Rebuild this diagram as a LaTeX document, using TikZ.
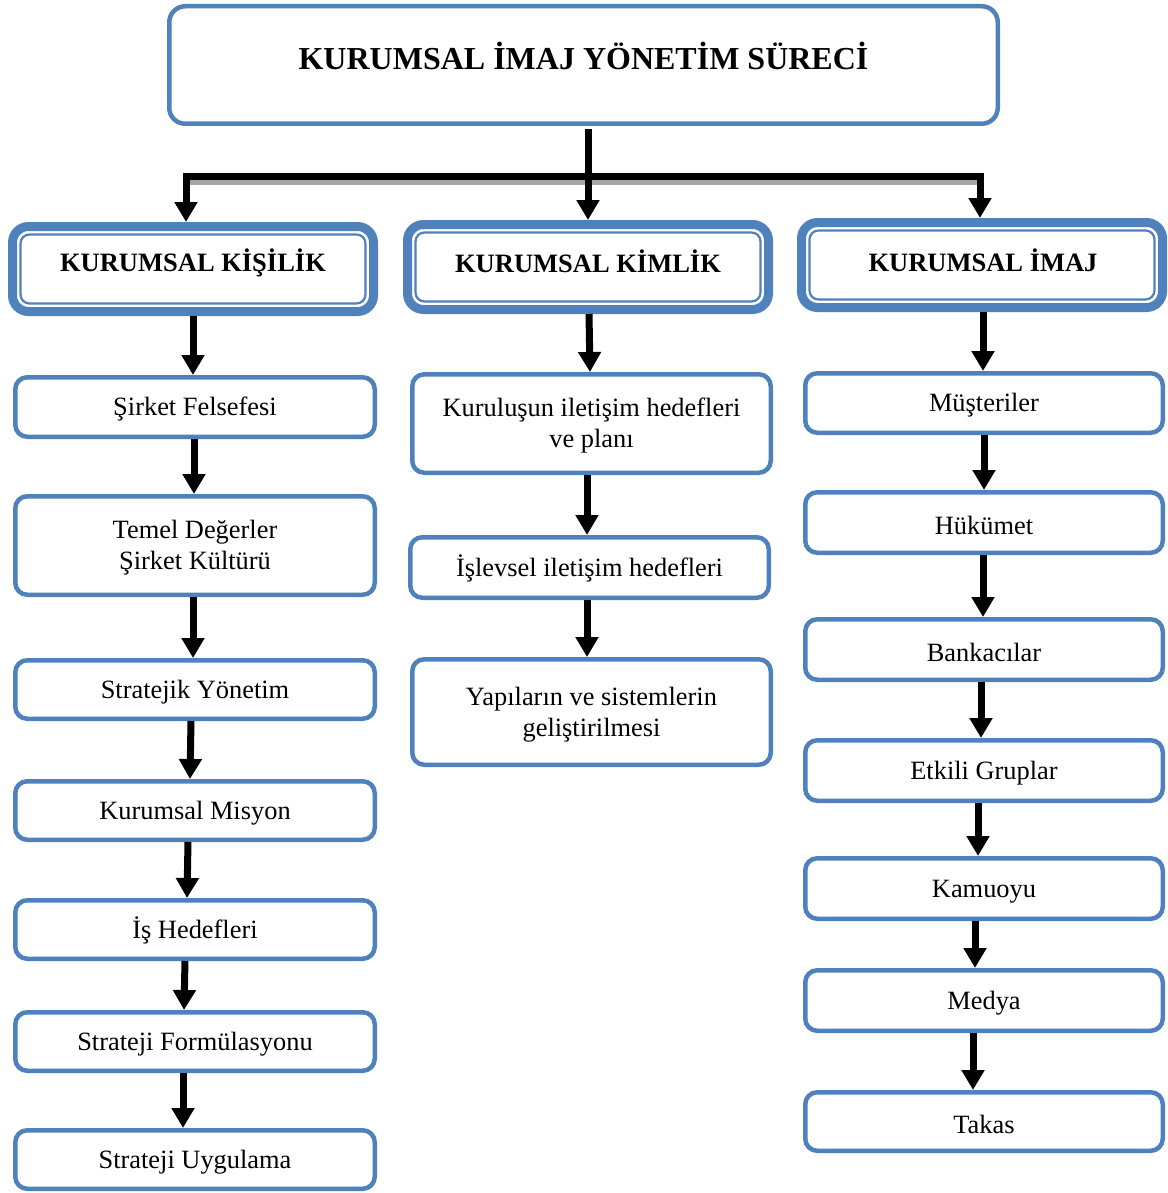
\documentclass[tikz,border=0pt]{standalone}
\usepackage{fontspec}
\setmainfont{Liberation Serif}
\usetikzlibrary{arrows.meta}
\definecolor{boxblue}{RGB}{79,129,189}
\newcommand\lowstrut{\rule{0pt}{23.5pt}}
\begin{document}
\begin{tikzpicture}[x=1pt,y=-1pt,
  bodytxt/.style={font=\fontsize{26.4}{31}\selectfont},
  box/.style={draw=boxblue, line width=4.5pt, rounded corners=12pt, fill=white,
    align=center, inner sep=0pt, bodytxt},
  lbox/.style={box, minimum width=359.5pt},
  hdr/.style={draw=boxblue, line width=9pt, rounded corners=16pt, fill=white,
    inner sep=0pt, minimum width=361pt, minimum height=85pt},
  innerframe/.style={draw=boxblue, line width=2.2pt, rounded corners=9pt},
  hdrtxt/.style={font=\bfseries\fontsize{26.5}{31}\selectfont},
  arr/.style={line width=7pt, -{Triangle[width=22pt,length=20pt]}},
]
\useasboundingbox (0,0) rectangle (1167,1193);

% top box
\node[draw=boxblue, line width=4.5pt, rounded corners=16pt, fill=white,
  minimum width=828.5pt, minimum height=117.5pt, inner sep=0pt] (top) at (583.5,65) {};
\node[font=\bfseries\fontsize{32}{38}\selectfont] (title) at (583.5,56) {KURUMSAL İMAJ YÖNETİM SÜRECİ};

% header boxes
\node[hdr] (h1) at (193,269) {};
\draw[innerframe] ([xshift=12.5pt,yshift=-12.5pt]h1.north west) rectangle ([xshift=-12.5pt,yshift=12.5pt]h1.south east);
\node[hdrtxt] (t1) at (193,263) {KURUMSAL KİŞİLİK};

\node[hdr] (h2) at (588,267) {};
\draw[innerframe] ([xshift=12.5pt,yshift=-12.5pt]h2.north west) rectangle ([xshift=-12.5pt,yshift=12.5pt]h2.south east);
\node[hdrtxt] (t2) at (588,261) {KURUMSAL KİMLİK};

\node[hdr] (h3) at (982,265) {};
\draw[innerframe] ([xshift=12.5pt,yshift=-12.5pt]h3.north west) rectangle ([xshift=-12.5pt,yshift=12.5pt]h3.south east);
\node[hdrtxt] (t3) at (983,260) {KURUMSAL İMAJ};

% left column
\node[lbox, minimum height=59.5pt] (b1) at (195,407) {\lowstrut Şirket Felsefesi};
\node[lbox, minimum height=98.5pt] (b2) at (195,545.5) {\lowstrut Temel Değerler\\Şirket Kültürü};
\node[lbox, minimum height=58.5pt] (b3) at (195,689.5) {\lowstrut Stratejik Yönetim};
\node[lbox, minimum height=58.5pt] (b4) at (195,810.5) {\lowstrut Kurumsal Misyon};
\node[lbox, minimum height=58.5pt] (b5) at (195,929.5) {\lowstrut İş Hedefleri};
\node[lbox, minimum height=58.5pt] (b6) at (195,1041.5) {\lowstrut Strateji Formülasyonu};
\node[lbox, minimum height=58.5pt] (b7) at (195,1159.5) {\lowstrut Strateji Uygulama};

% middle column
\node[box, minimum width=358.5pt, minimum height=98.5pt] (m1) at (591.5,423.5) {\lowstrut Kuruluşun iletişim hedefleri\\ve planı};
\node[box, minimum width=358.5pt, minimum height=60.5pt] (m2) at (589.5,567.5) {\lowstrut İşlevsel iletişim hedefleri};
\node[box, minimum width=358.5pt, minimum height=105.5pt] (m3) at (591.5,712) {\lowstrut Yapıların ve sistemlerin\\geliştirilmesi};

% right column
\node[box, minimum width=357.5pt, minimum height=59.5pt] (r1) at (984,403) {\lowstrut Müşteriler};
\node[box, minimum width=357.5pt, minimum height=60.5pt] (r2) at (984,522.5) {\lowstrut Hükümet};
\node[box, minimum width=357.5pt, minimum height=60.5pt] (r3) at (984,649.5) {\lowstrut Bankacılar};
\node[box, minimum width=357.5pt, minimum height=60.5pt] (r4) at (984,770.5) {\lowstrut Etkili Gruplar};
\node[box, minimum width=357.5pt, minimum height=60.5pt] (r5) at (984,888.5) {\lowstrut Kamuoyu};
\node[box, minimum width=357.5pt, minimum height=60.5pt] (r6) at (984,1000.5) {\lowstrut Medya};
\node[box, minimum width=357.5pt, minimum height=58.5pt] (r7) at (984,1121.5) {\lowstrut Takas};

% distribution bar
\coordinate (barL) at (186,177);
\coordinate (barR) at (980,177);
\draw[line width=4.5pt, black!35] ([xshift=4pt,yshift=-5.5pt]barL) -- ([yshift=-5.5pt]barR);
\draw[line width=7pt, line join=miter,
  {Triangle[width=22pt,length=20pt]}-{Triangle[width=22pt,length=20pt]}]
  (barL |- h1.north) -- (barL) -- (barR) -- (barR |- h3.north);
\draw[arr, shorten <=3pt] ([xshift=4.5pt]top.south) -- (h2.north);

% left arrows
\draw[arr] (h1.south) -- ([xshift=-2pt]b1.north);
\draw[arr] ([xshift=-1pt]b1.south) -- ([xshift=-1pt]b2.north);
\draw[arr] ([xshift=-2pt]b2.south) -- ([xshift=-2pt]b3.north);
\draw[arr] ([xshift=-4pt]b3.south) -- ([xshift=-5pt]b4.north);
\draw[arr] ([xshift=-7pt]b4.south) -- ([xshift=-8pt]b5.north);
\draw[arr] ([xshift=-10pt]b5.south) -- ([xshift=-11pt]b6.north);
\draw[arr] ([xshift=-12pt]b6.south) -- ([xshift=-12pt]b7.north);

% middle arrows
\draw[arr] ([xshift=1pt]h2.south) -- ([xshift=-1.5pt]m1.north);
\draw[arr] ([xshift=-4.5pt]m1.south) -- ([xshift=-2.5pt]m2.north);
\draw[arr] ([xshift=-2.5pt]m2.south) -- ([xshift=-4.5pt]m3.north);

% right arrows
\draw[arr] ([xshift=1pt]h3.south) -- ([xshift=-1pt]r1.north);
\draw[arr] (r1.south) -- (r2.north);
\draw[arr] ([xshift=-1pt]r2.south) -- ([xshift=-1pt]r3.north);
\draw[arr] ([xshift=-3pt]r3.south) -- ([xshift=-3pt]r4.north);
\draw[arr] ([xshift=-6pt]r4.south) -- ([xshift=-6pt]r5.north);
\draw[arr] ([xshift=-9pt]r5.south) -- ([xshift=-9pt]r6.north);
\draw[arr] ([xshift=-11pt]r6.south) -- ([xshift=-11pt]r7.north);
\end{tikzpicture}
\end{document}
